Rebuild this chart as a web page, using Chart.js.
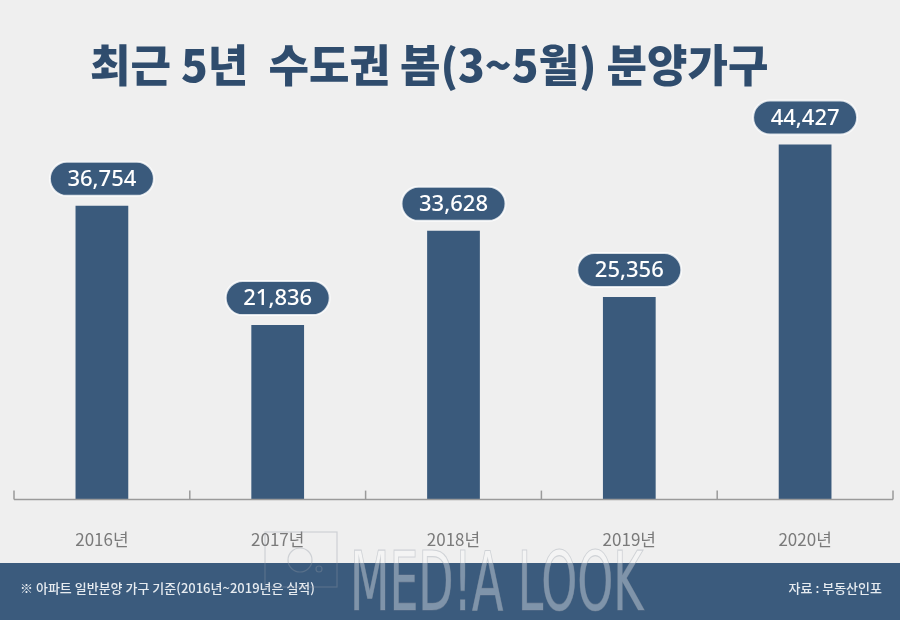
<!DOCTYPE html>
<html>
<head>
<meta charset="utf-8">
<script src="https://cdn.jsdelivr.net/npm/chart.js@4"></script>
<style>
  html, body { margin: 0; padding: 0; background: #efefef; }
  #wrap { width: 900px; height: 620px; position: relative; }
</style>
</head>
<body>
<div id="wrap"><canvas id="chart-house"></canvas></div>
<script>
// 최근 5년 수도권 봄(3~5월) 분양가구
var years = ['2016년', '2017년', '2018년', '2019년', '2020년'];
var households = [36754, 21836, 33628, 25356, 44427];

var titleText = '최근 5년  수도권 봄(3~5월) 분양가구';
var noteText = '※ 아파트 일반분양 가구 기준(2016년~2019년은 실적)';
var sourceText = '자료 : 부동산인포';

var navy = '#3a5a7c';

// background, title, footer band and watermark
var decoPlugin = {
    id: 'deco',
    beforeDraw: function(chart) {
        var c = chart.ctx;
        c.save();
        c.fillStyle = '#efefef';
        c.fillRect(0, 0, chart.width, chart.height);
        c.fillStyle = '#2f4c6d';
        c.font = '900 44px "Noto Sans CJK KR"';
        c.textAlign = 'left';
        c.textBaseline = 'middle';
        c.fillText(titleText, 90, 65);
        c.fillStyle = '#3b5b7d';
        c.fillRect(0, 563, chart.width, chart.height - 563);
        c.restore();
    },
    afterDraw: function(chart) {
        var c = chart.ctx;
        c.save();
        c.fillStyle = '#e6ebf0';
        c.font = '500 13px "Noto Sans CJK KR"';
        c.textBaseline = 'middle';
        c.textAlign = 'left';
        c.fillText(noteText, 20, 588);
        c.textAlign = 'right';
        c.fillText(sourceText, 882, 588);
        // watermark
        c.globalAlpha = 0.35;
        c.strokeStyle = '#8f99a4';
        c.fillStyle = '#ffffff';
        c.lineWidth = 1.2;
        c.strokeRect(265, 532, 72, 55);
        c.beginPath();
        c.arc(300, 560, 12, 0, Math.PI * 2);
        c.stroke();
        c.beginPath();
        c.arc(319, 569, 3, 0, Math.PI * 2);
        c.stroke();
        c.translate(350, 589);
        c.scale(0.62, 1);
        c.font = '300 82px "Liberation Sans Narrow", "DejaVu Sans Condensed", sans-serif';
        c.textAlign = 'left';
        c.fillText('MED!A LOOK', 0, 0);
        c.strokeText('MED!A LOOK', 0, 0);
        c.restore();
    }
};

// small ticks at category boundaries, pointing up from the axis
var tickPlugin = {
    id: 'upTicks',
    afterDatasetsDraw: function(chart) {
        var x = chart.scales.x, c = chart.ctx, b = chart.chartArea.bottom;
        c.save();
        c.strokeStyle = '#9a9a9a';
        c.lineWidth = 1.5;
        for (var i = 0; i <= years.length; i++) {
            var px = x.getPixelForValue(i - 0.5);
            c.beginPath();
            c.moveTo(px, b);
            c.lineTo(px, b - 9);
            c.stroke();
        }
        c.beginPath();
        c.moveTo(x.getPixelForValue(-0.5), b);
        c.lineTo(x.getPixelForValue(years.length - 0.5), b);
        c.stroke();
        c.restore();
    }
};

// rounded value badges above the bars
var badgePlugin = {
    id: 'badges',
    afterDatasetsDraw: function(chart) {
        var meta = chart.getDatasetMeta(0), c = chart.ctx;
        c.save();
        c.font = '500 22px "Noto Sans"';
        c.textAlign = 'center';
        c.textBaseline = 'middle';
        meta.data.forEach(function(bar, i) {
            var txt = households[i].toLocaleString('en-US');
            var w = 104, h = 34, r = 17;
            var cx = bar.x, cy = bar.y - 10 - h / 2;
            c.beginPath();
            c.roundRect(cx - w / 2, cy - h / 2, w, h, r);
            c.fillStyle = navy;
            c.fill();
            c.strokeStyle = 'rgba(255,255,255,0.8)';
            c.lineWidth = 2;
            c.stroke();
            c.fillStyle = '#ffffff';
            c.fillText(txt, cx, cy + 1);
        });
        c.restore();
    }
};

var ctx = document.getElementById('chart-house').getContext('2d');
var chartHouse = new Chart(ctx, {
    type: 'bar',
    data: {
        labels: years,
        datasets: [{
            label: '분양가구',
            data: households,
            backgroundColor: navy,
            borderWidth: 0,
            barPercentage: 0.3,
            categoryPercentage: 1.0
        }]
    },
    options: {
        responsive: true,
        maintainAspectRatio: false,
        animation: false,
        layout: {
            padding: { left: 14, right: 7, top: 100, bottom: 40 }
        },
        plugins: {
            legend: { display: false },
            tooltip: { enabled: false }
        },
        scales: {
            x: {
                grid: { display: false, drawTicks: false },
                border: { display: false },
                ticks: {
                    color: '#7a7a7a',
                    padding: 30,
                    font: { family: '"Noto Sans CJK KR"', size: 17 }
                }
            },
            y: {
                display: false,
                min: 0,
                max: 50000
            }
        }
    },
    plugins: [decoPlugin, tickPlugin, badgePlugin]
});
</script>
</body>
</html>
